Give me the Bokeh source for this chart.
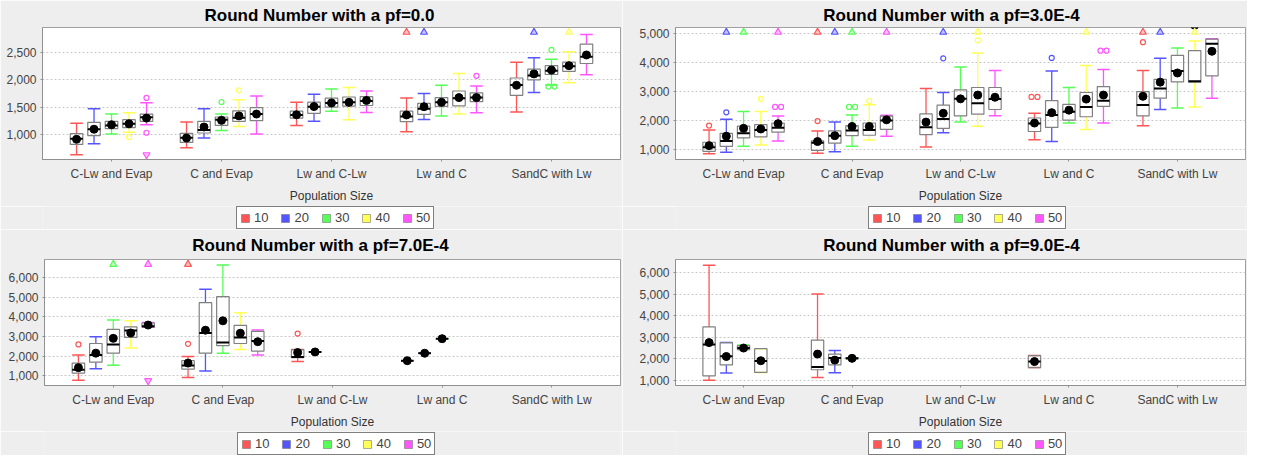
from bokeh.plotting import figure
from bokeh.models import (ColumnDataSource, FactorRange, Range1d, FixedTicker,
                          NumeralTickFormatter, Legend, LegendItem)
from bokeh.transform import dodge
from bokeh.layouts import column, row
from bokeh.embed import file_html
from bokeh.resources import INLINE

CATEGORIES = ["C-Lw and Evap", "C and Evap", "Lw and C-Lw", "Lw and C", "SandC with Lw"]
SERIES = ["10", "20", "30", "40", "50"]
COLORS = ["#FF5555", "#5555FF", "#55FF55", "#FFFF55", "#FF55FF"]

# ---------------- pf = 0.0  (rows: series 10..50, columns: categories)
PF0_LOW = [[633, 759, 1167, 1052, 1409],
           [834, 938, 1241, 1276, 1765],
           [1012, 1076, 1426, 1340, 1903],
           [1041, 1145, 1271, 1374, 1943],
           [1179, 1012, 1403, 1397, 2087]]
PF0_Q1 = [[822, 857, 1300, 1236, 1714],
          [983, 1029, 1386, 1369, 1995],
          [1110, 1167, 1500, 1512, 2093],
          [1128, 1241, 1517, 1524, 2150],
          [1241, 1253, 1529, 1598, 2293]]
PF0_MED = [[926, 943, 1355, 1328, 1903],
           [1098, 1085, 1507, 1472, 2076],
           [1167, 1271, 1576, 1587, 2162],
           [1196, 1305, 1587, 1662, 2242],
           [1317, 1374, 1610, 1673, 2414]]
PF0_Q3 = [[1017, 1024, 1426, 1426, 2029],
          [1224, 1241, 1590, 1569, 2190],
          [1241, 1320, 1662, 1673, 2253],
          [1271, 1431, 1684, 1793, 2317],
          [1374, 1490, 1690, 1759, 2645]]
PF0_HIGH = [[1207, 1231, 1587, 1667, 2317],
            [1472, 1472, 1733, 1748, 2397],
            [1374, 1374, 1828, 1897, 2369],
            [1397, 1633, 1857, 2110, 2507],
            [1581, 1702, 1793, 1886, 2822]]
PF0_MEAN = [[915, 938, 1360, 1357, 1897],
            [1098, 1138, 1510, 1507, 2104],
            [1179, 1259, 1576, 1587, 2173],
            [1196, 1340, 1587, 1673, 2253],
            [1300, 1374, 1621, 1673, 2448]]
PF0_OUTLIERS = [(2, 1, 1593), (2, 4, 2541), (2, 4, 1874), (2, 4, 1874), (3, 0, 955),
                (3, 1, 1805), (4, 0, 1667), (4, 0, 1034), (4, 3, 2069)]
PF0_FAROUT = [(0, 3, "high"), (1, 3, "high"), (1, 4, "high"), (3, 4, "high"), (4, 0, "low")]
PF0_TICKS = [1000, 1500, 2000, 2500]
PF0_YRANGE = [547, 2948]

# ---------------- pf = 3.0E-4
PF3_LOW = [[861, 883, 1097, 1346, 1822],
           [916, 936, 1583, 1282, 2382],
           [1120, 1120, 1949, 1917, 2436],
           [1162, 1336, 1809, 1692, 2469],
           [1304, 1466, 2165, 1917, 2770]]
PF3_Q1 = [[948, 981, 1518, 1627, 2165],
          [1120, 1227, 1735, 1767, 2770],
          [1411, 1485, 2165, 2016, 3330],
          [1443, 1498, 2220, 2133, 3319],
          [1605, 1702, 2381, 2489, 3538]]
PF3_MED = [[1087, 1239, 1777, 1900, 2534],
           [1304, 1485, 2058, 2197, 3103],
           [1563, 1660, 2747, 2307, 3700],
           [1680, 1680, 2599, 2469, 3352],
           [1757, 2003, 2738, 2683, 4637]]
PF3_Q3 = [[1259, 1304, 2230, 2090, 2997],
          [1563, 1647, 2534, 2683, 3417],
          [1809, 1832, 3052, 2555, 4236],
          [1864, 1919, 3136, 2964, 4398],
          [1919, 2155, 3136, 3168, 4798]]
PF3_HIGH = [[1680, 1647, 3103, 2252, 3718],
            [2048, 1951, 2964, 3700, 4139],
            [2317, 2197, 3838, 3136, 4495],
            [2317, 2543, 4323, 3894, 4733],
            [2155, 2187, 3722, 3750, 4806]]
PF3_MEAN = [[1142, 1282, 1949, 1917, 2834],
            [1466, 1485, 2252, 2274, 3320],
            [1735, 1799, 2747, 2359, 3635],
            [1713, 1799, 2877, 2738, 5270],
            [1896, 2026, 2802, 2877, 4378]]
PF3_OUTLIERS = [(0, 0, 1832), (0, 1, 1984), (0, 3, 2812), (0, 3, 2812), (0, 4, 4689),
                (1, 0, 2285), (1, 2, 4136), (1, 3, 4149), (2, 1, 2469), (2, 1, 2469),
                (3, 0, 2747), (3, 1, 2673), (3, 2, 4754), (4, 0, 2469), (4, 0, 2469),
                (4, 3, 4398), (4, 3, 4398)]
PF3_FAROUT = [(1, 0, "high"), (2, 0, "high"), (4, 0, "high"), (0, 1, "high"), (1, 1, "high"),
              (2, 1, "high"), (4, 1, "high"), (1, 2, "high"), (3, 2, "high"), (3, 3, "high"),
              (0, 4, "high"), (1, 4, "high"), (3, 4, "high")]
PF3_TICKS = [1000, 2000, 3000, 4000, 5000]
PF3_YRANGE = [667, 5194]

# ---------------- pf = 7.0E-4
PF7_LOW = [[769, 908, 1723, 1770, None],
           [1354, 1246, 2215, 2150, None],
           [1538, 2154, None, 2890, None],
           [2415, 2340, None, None, None],
           [3470, 2061, None, None, None]]
PF7_Q1 = [[1138, 1338, 1923, 1770, None],
          [1692, 2154, 2215, 2150, None],
          [2154, 2538, None, 2890, None],
          [2954, 2646, None, None, None],
          [3480, 2261, None, None, None]]
PF7_MED = [[1308, 1523, 1954, 1770, None],
           [2061, 3184, 2215, 2150, None],
           [2600, 2692, None, 2890, None],
           [3307, 2954, None, None, None],
           [3520, 2769, None, None, None]]
PF7_Q3 = [[1646, 1769, 2338, 1770, None],
          [2646, 4723, 2215, 2150, None],
          [3369, 5030, None, 2890, None],
          [3492, 3569, None, None, None],
          [3690, 3261, None, None, None]]
PF7_HIGH = [[2061, 1985, 2338, 1770, None],
            [2984, 5414, 2215, 2150, None],
            [3846, 6645, None, 2890, None],
            [3800, 4215, None, None, None],
            [3710, 3338, None, None, None]]
PF7_MEAN = [[1415, 1646, 2184, 1770, None],
            [2154, 3323, 2215, 2150, None],
            [2907, 3800, None, 2890, None],
            [3184, 3169, None, None, None],
            [3584, 2738, None, None, None]]
PF7_OUTLIERS = [(0, 0, 2600), (0, 1, 2630), (0, 2, 3153)]
PF7_FAROUT = [(2, 0, "high"), (4, 0, "high"), (4, 0, "low"), (0, 1, "high")]
PF7_TICKS = [1000, 2000, 3000, 4000, 5000, 6000]
PF7_YRANGE = [506, 6923]

# ---------------- pf = 9.0E-4
PF9_LOW = [[1000, 1126, None, 1590, None],
           [1336, 1350, None, None, None],
           [2428, 2000, None, None, None],
           [1364, None, None, None, None],
           [None, None, None, None, None]]
PF9_Q1 = [[1210, 1490, None, 1590, None],
          [1714, 1714, None, None, None],
          [2428, 2000, None, None, None],
          [1364, None, None, None, None],
          [None, None, None, None, None]]
PF9_MED = [[2666, 1616, None, 1870, None],
           [2120, 2036, None, None, None],
           [2498, 2020, None, None, None],
           [1900, None, None, None, None],
           [None, None, None, None, None]]
PF9_Q3 = [[3478, 2862, None, 2150, None],
          [2750, 2218, None, None, None],
          [2610, 2050, None, None, None],
          [2470, None, None, None, None],
          [None, None, None, None, None]]
PF9_HIGH = [[6348, 5004, None, 2150, None],
            [2750, 2386, None, None, None],
            [2638, 2050, None, None, None],
            [2470, None, None, None, None],
            [None, None, None, None, None]]
PF9_MEAN = [[2750, 2218, None, 1870, None],
            [2106, 1938, None, None, None],
            [2498, 2020, None, None, None],
            [1910, None, None, None, None],
            [None, None, None, None, None]]
PF9_OUTLIERS = []
PF9_FAROUT = []
PF9_TICKS = [1000, 2000, 3000, 4000, 5000, 6000]
PF9_YRANGE = [759, 6610]

TITLES = ["Round Number with a pf=0.0", "Round Number with a pf=3.0E-4",
          "Round Number with a pf=7.0E-4", "Round Number with a pf=9.0E-4"]

# ---------------- layout / style constants
FONT = "Liberation Sans"
BOX_W = 0.114
STEP = 0.159
X_PAD = 0.051
BOX_LINE = "#808080"
BG = "#EEEEEE"

BOLD_W = {"R": 722, "o": 611, "u": 611, "n": 611, "d": 611, " ": 278, "N": 722, "m": 889,
          "b": 611, "e": 556, "r": 389, "w": 778, "i": 278, "t": 333, "h": 611, "a": 556,
          "p": 611, "f": 333, "=": 584, ".": 278, "E": 667, "-": 333}


def text_width(s, size):
    return sum(BOLD_W.get(ch, 556) for ch in s) * size / 1000.0


def make_panel(title, low, q1, med, q3, high, mean, outliers, farouts, ticks, yrange,
               width, height, b_left, b_top, b_bottom, title_standoff, fig_left_abs,
               center_abs, legend_h, legend_left_abs):
    frame_w = width - b_left - 2
    frame_h = height - b_top - b_bottom
    frame_left_abs = fig_left_abs + b_left
    p = figure(x_range=FactorRange(factors=CATEGORIES, range_padding=X_PAD),
               y_range=Range1d(yrange[0], yrange[1]),
               width=width, height=height,
               output_backend="svg", toolbar_location=None,
               min_border_left=b_left, min_border_right=2, min_border_top=b_top,
               min_border_bottom=b_bottom, title=title)
    p.border_fill_color = BG
    p.background_fill_color = "white"
    p.outline_line_color = "#A0A0A0"

    p.title.text_font = FONT
    p.title.text_font_size = "17px"
    p.title.text_font_style = "bold"
    p.title.text_color = "black"
    p.title.align = "left"
    p.title.standoff = title_standoff
    p.title.offset = center_abs - frame_left_abs - text_width(title, 17) / 2 + 7

    p.xgrid.visible = False
    p.ygrid.grid_line_color = "#C8C8C8"
    p.ygrid.grid_line_dash = "2 2"
    p.yaxis.ticker = FixedTicker(ticks=ticks)
    p.yaxis.formatter = NumeralTickFormatter(format="0,0")

    for ax in (p.xaxis, p.yaxis):
        ax.axis_line_color = "#909090"
        ax.major_tick_line_color = "#909090"
        ax.major_tick_in = 0
        ax.major_tick_out = 2
        ax.minor_tick_line_color = None
        ax.major_label_text_font = FONT
        ax.major_label_text_font_size = "12px"
        ax.major_label_text_color = "#444444"
        ax.major_label_standoff = 4
    p.xaxis.major_label_standoff = 5
    p.xaxis.axis_label = "Population Size"
    p.xaxis.axis_label_text_font = FONT
    p.xaxis.axis_label_text_font_size = "12px"
    p.xaxis.axis_label_text_font_style = "normal"
    p.xaxis.axis_label_text_color = "#333333"
    p.xaxis.axis_label_standoff = 5

    span = yrange[1] - yrange[0]
    unit_px = frame_w / (len(CATEGORIES) * (1 + X_PAD))
    for s in range(len(SERIES)):
        off = (s - 2) * STEP
        idx = [j for j in range(len(CATEGORIES)) if q1[s][j] is not None]
        src = ColumnDataSource(dict(
            cat=[CATEGORIES[j] for j in idx],
            low=[low[s][j] for j in idx], q1=[q1[s][j] for j in idx],
            med=[med[s][j] for j in idx], q3=[q3[s][j] for j in idx],
            high=[high[s][j] for j in idx], mean=[mean[s][j] for j in idx]))
        xc = dodge("cat", off, range=p.x_range)
        c = COLORS[s]
        p.segment(x0=xc, x1=xc, y0="q3", y1="high", source=src, line_color=c, line_width=1.3)
        p.segment(x0=xc, x1=xc, y0="q1", y1="low", source=src, line_color=c, line_width=1.3)
        for col in ("high", "low"):
            p.rect(x=xc, y=col, width=BOX_W, height=1.5, height_units="screen",
                   fill_color=c, line_color=None, source=src)
        p.vbar(x=xc, top="q3", bottom="q1", width=BOX_W, fill_color=None,
               line_color=BOX_LINE, line_width=1.2, source=src)
        p.segment(x0=dodge("cat", off - BOX_W / 2, range=p.x_range),
                  x1=dodge("cat", off + BOX_W / 2, range=p.x_range),
                  y0="med", y1="med", source=src, line_color="black", line_width=2)
        p.scatter(x=xc, y="mean", source=src, marker="circle", size=8,
                  fill_color="black", line_color="black")

    # outliers (near-equal values of one box are drawn side by side)
    groups = {}
    for s, c_i, v in outliers:
        groups.setdefault((s, c_i), []).append(v)
    shifted = {}
    for (s, c_i), vals in groups.items():
        vals = sorted(vals)
        clusters = []
        for v in vals:
            if clusters and v - clusters[-1][-1] <= span * 0.01:
                clusters[-1].append(v)
            else:
                clusters.append([v])
        for cl in clusters:
            n = len(cl)
            for k, v in enumerate(cl):
                sh = round((k - (n - 1) / 2) * 6 / unit_px, 5)
                d = shifted.setdefault((s, sh), {"cat": [], "y": []})
                d["cat"].append(CATEGORIES[c_i])
                d["y"].append(v)
    for (s, sh), d in shifted.items():
        p.scatter(x=dodge("cat", (s - 2) * STEP + sh, range=p.x_range), y="y",
                  source=ColumnDataSource(d), marker="circle", size=5,
                  fill_color=None, line_color=COLORS[s], line_width=1.2)

    # far-out indicators at the plot edges
    edge = 5 * span / frame_h
    for side, marker, yv in (("high", "triangle", yrange[1] - edge),
                             ("low", "inverted_triangle", yrange[0] + edge)):
        for s in range(len(SERIES)):
            cats = [CATEGORIES[c_i] for (ss, c_i, sd) in farouts if ss == s and sd == side]
            if not cats:
                continue
            src = ColumnDataSource(dict(cat=cats, y=[yv] * len(cats)))
            p.scatter(x=dodge("cat", (s - 2) * STEP, range=p.x_range), y="y", source=src,
                      marker=marker, size=7, fill_color=COLORS[s], fill_alpha=0.35,
                      line_color=COLORS[s], line_width=1.2)

    # legend strip under the chart (its frame is aligned with the chart frame)
    lf = figure(width=width, height=legend_h, x_range=Range1d(0, 1), y_range=Range1d(0, 1),
                output_backend="svg", toolbar_location=None, min_border=0,
                x_axis_location=None, y_axis_location=None)
    lf.grid.visible = False
    lf.outline_line_color = None
    lf.background_fill_color = BG
    lf.border_fill_color = BG
    items = []
    for s in range(len(SERIES)):
        # swatch source for the legend key only; sits outside the visible range
        r = lf.rect(x=[-1], y=[-1], width=0.01, height=0.01, fill_color=COLORS[s],
                    line_color="#777777", line_width=0.6)
        items.append(LegendItem(label=SERIES[s], renderers=[r]))
    legend = Legend(items=items, orientation="horizontal",
                    location=(legend_left_abs - frame_left_abs, 0),
                    margin=0, glyph_width=10, glyph_height=10, label_standoff=4, spacing=12,
                    padding=3, border_line_color="black", border_line_width=1,
                    background_fill_color="white", background_fill_alpha=1,
                    label_text_font=FONT, label_text_font_size="13px",
                    label_height=12, label_width=10)
    lf.add_layout(legend, "center")
    return column(p, lf)


c1 = make_panel(TITLES[0], PF0_LOW, PF0_Q1, PF0_MED, PF0_Q3, PF0_HIGH, PF0_MEAN,
                PF0_OUTLIERS, PF0_FAROUT, PF0_TICKS, PF0_YRANGE,
                622, 206, 42, 20, 47, 6, 8, 320, 23, 244)
c2 = make_panel(TITLES[1], PF3_LOW, PF3_Q1, PF3_MED, PF3_Q3, PF3_HIGH, PF3_MEAN,
                PF3_OUTLIERS, PF3_FAROUT, PF3_TICKS, PF3_YRANGE,
                625, 206, 53, 20, 47, 6, 630, 952, 23, 876)
c3 = make_panel(TITLES[2], PF7_LOW, PF7_Q1, PF7_MED, PF7_Q3, PF7_HIGH, PF7_MEAN,
                PF7_OUTLIERS, PF7_FAROUT, PF7_TICKS, PF7_YRANGE,
                622, 202, 44, 27, 44, 9, 8, 321, 24, 245)
c4 = make_panel(TITLES[3], PF9_LOW, PF9_Q1, PF9_MED, PF9_Q3, PF9_HIGH, PF9_MEAN,
                PF9_OUTLIERS, PF9_FAROUT, PF9_TICKS, PF9_YRANGE,
                625, 202, 53, 27, 44, 9, 630, 952, 24, 876)

layout = column(row(c1, c2), row(c3, c4))
open("out.html", "w").write(file_html(layout, INLINE))
